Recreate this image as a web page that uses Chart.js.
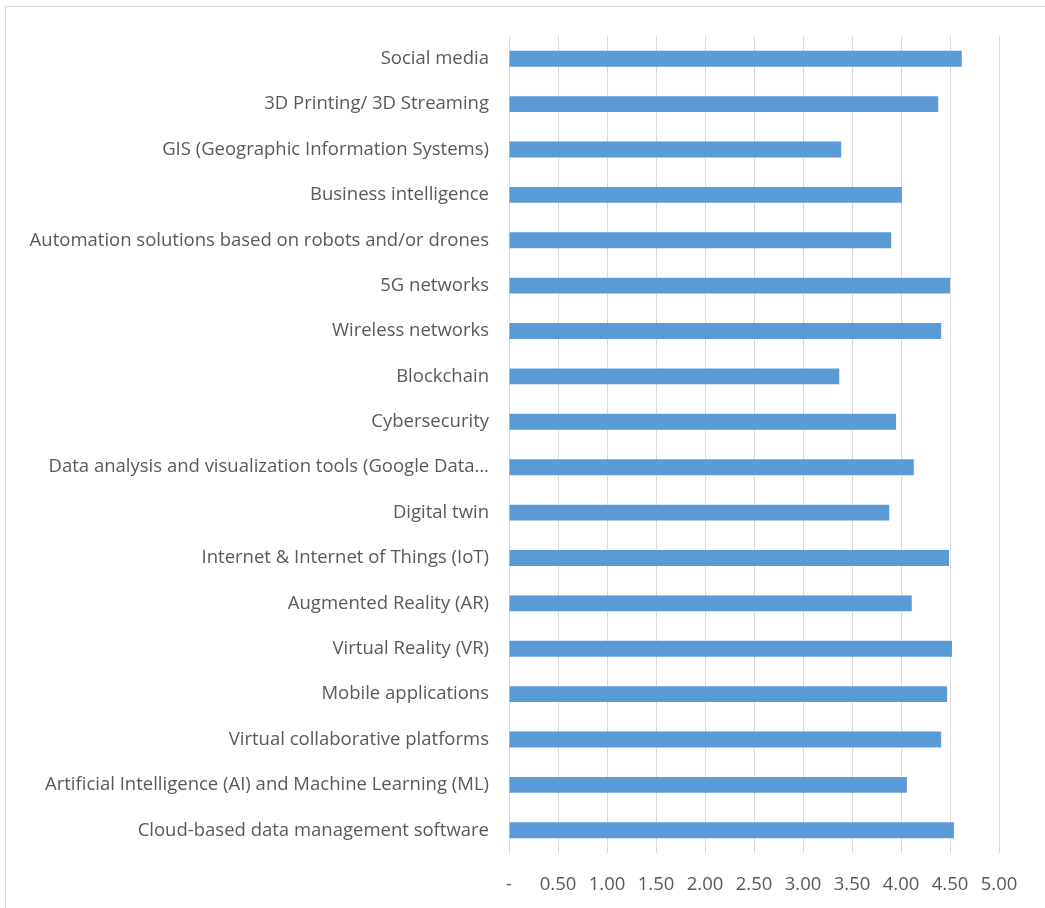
<!DOCTYPE html>
<html lang="en">
<head>
<meta charset="utf-8">
<script src="https://cdn.jsdelivr.net/npm/chart.js@4.4.0/dist/chart.umd.min.js"></script>
<style>
  html, body { margin: 0; padding: 0; background: #fff; overflow: hidden; }
  #marco { position: absolute; left: 5px; top: 6px; width: 1100px; height: 1000px; border: 1px solid #d9d9d9; }
  #caja { position: absolute; left: 0; top: 0; width: 1045px; height: 908px; }
</style>
</head>
<body>
<div id="marco"></div>
<div id="caja"><canvas id="grafica"></canvas></div>
<script>
  // categorias de arriba hacia abajo
  const tecnologias = [
    'Social media',
    '3D Printing/ 3D Streaming',
    'GIS (Geographic Information Systems)',
    'Business intelligence',
    'Automation solutions based on robots and/or drones',
    '5G networks',
    'Wireless networks',
    'Blockchain',
    'Cybersecurity',
    'Data analysis and visualization tools (Google Data…',
    'Digital twin',
    'Internet & Internet of Things (IoT)',
    'Augmented Reality (AR)',
    'Virtual Reality (VR)',
    'Mobile applications',
    'Virtual collaborative platforms',
    'Artificial Intelligence (AI) and Machine Learning (ML)',
    'Cloud-based data management software'
  ]

  const promedios = [4.62, 4.38, 3.39, 4.01, 3.90, 4.50, 4.41, 3.37, 3.95, 4.13, 3.88, 4.49, 4.11, 4.52, 4.47, 4.41, 4.06, 4.54]

  const minimo = 0
  const maximo = 5
  const paso = 0.5

  const gris = '#595959'
  const fuente = { family: "'Open Sans', 'Noto Sans', sans-serif", size: 18.5 }

  const contenedor = document.querySelector('#grafica')
  const grafica = new Chart(contenedor, {
    type: 'bar',
    data: {
      labels: tecnologias,
      datasets: [{
        data: promedios,
        backgroundColor: '#5b9bd5',
        categoryPercentage: 0.7,
        barPercentage: 0.5
      }]
    },
    options: {
      indexAxis: 'y',
      responsive: true,
      maintainAspectRatio: false,
      animation: false,
      layout: { padding: { top: 36, right: 46, bottom: 0, left: 0 } },
      plugins: {
        legend: { display: false },
        tooltip: { enabled: false }
      },
      scales: {
        x: {
          min: minimo,
          max: maximo,
          ticks: {
            stepSize: paso,
            color: gris,
            font: fuente,
            padding: 21,
            maxRotation: 0,
            autoSkip: false,
            callback: (valor) => valor === 0 ? '-' : valor.toFixed(2)
          },
          grid: { color: '#d9d9d9', lineWidth: 1, drawTicks: false },
          border: { display: false },
          afterFit: (escala) => { escala.height = 55 }
        },
        y: {
          ticks: { color: gris, font: fuente, padding: 20, autoSkip: false },
          grid: { display: false, drawTicks: false },
          border: { color: '#d9d9d9' },
          afterFit: (escala) => { escala.width = 509 }
        }
      }
    }
  })
</script>
</body>
</html>
